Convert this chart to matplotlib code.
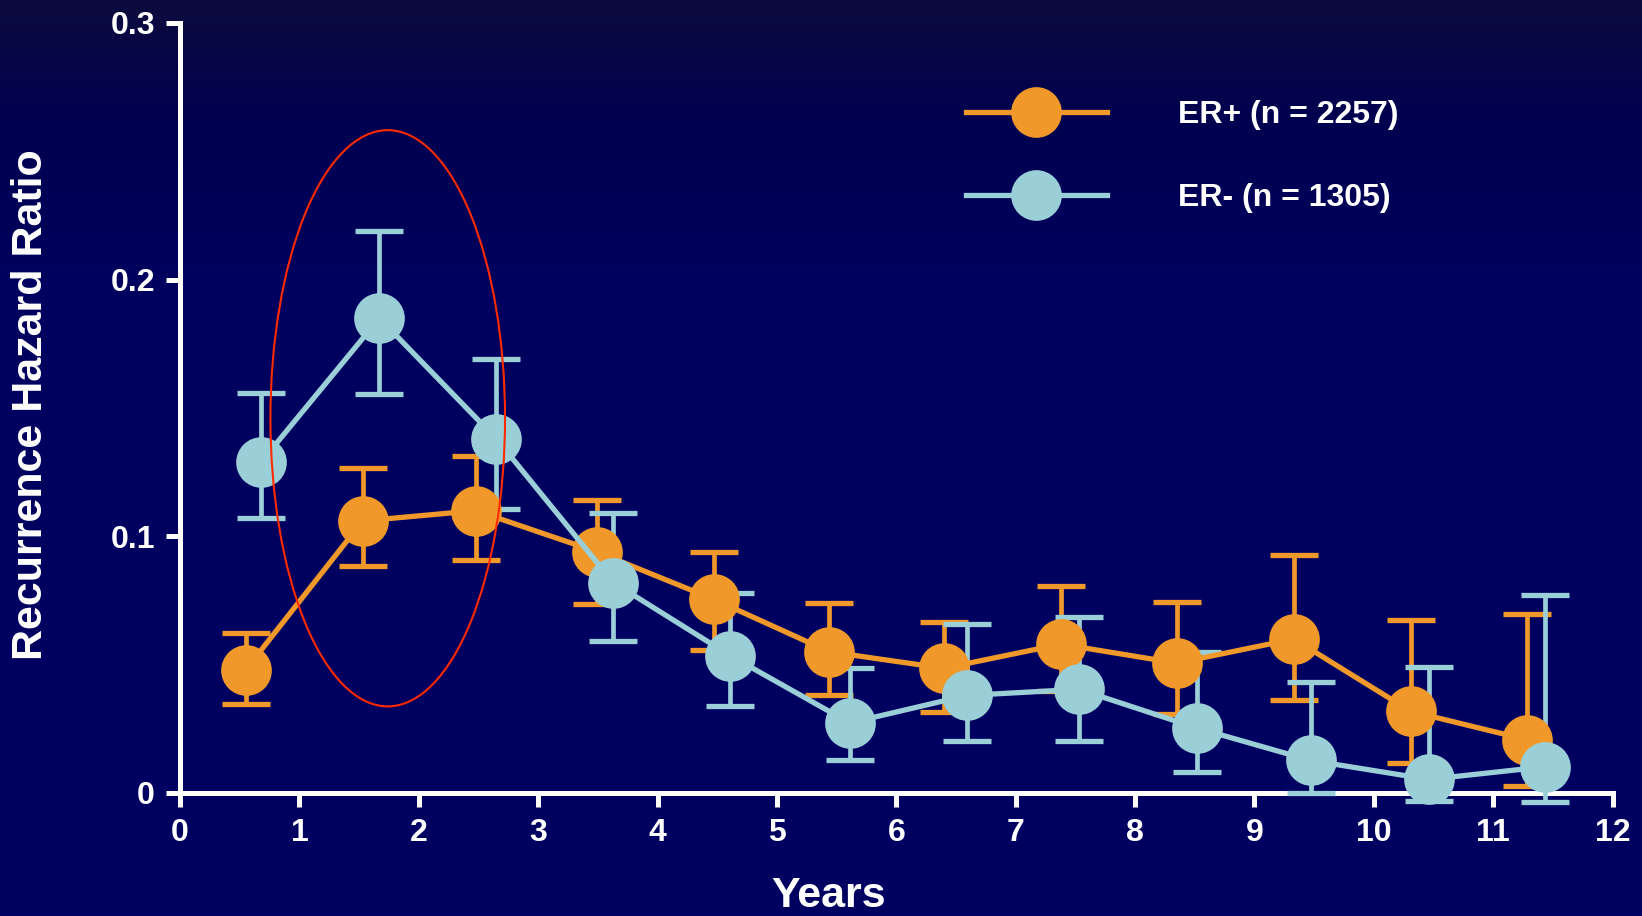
import numpy as np
import matplotlib
matplotlib.use("Agg")
import matplotlib.pyplot as plt
from matplotlib.patches import Ellipse
from matplotlib.colors import LinearSegmentedColormap

plt.rcParams['font.family'] = ['Liberation Sans', 'DejaVu Sans']
plt.rcParams['font.weight'] = 'bold'

# ---- data ----
er_pos_x = [0.55, 1.53, 2.48, 3.49, 4.47, 5.44, 6.40, 7.38, 8.35, 9.33, 10.31, 11.28]
er_pos_y = [0.048, 0.106, 0.110, 0.094, 0.0755, 0.055, 0.0486, 0.058, 0.0506, 0.060, 0.0318, 0.0208]
er_pos_hi = [0.0624, 0.1265, 0.1314, 0.1143, 0.0939, 0.0739, 0.0665, 0.0808, 0.0743, 0.0927, 0.0673, 0.0698]
er_pos_lo = [0.0347, 0.0886, 0.0906, 0.0735, 0.0559, 0.038, 0.0314, 0.0396, 0.0306, 0.0363, 0.0118, 0.0029]

er_neg_x = [0.68, 1.67, 2.65, 3.63, 4.61, 5.61, 6.59, 7.53, 8.52, 9.47, 10.46, 11.43]
er_neg_y = [0.129, 0.185, 0.138, 0.082, 0.0535, 0.0273, 0.038, 0.0404, 0.0253, 0.0127, 0.0053, 0.0102]
er_neg_hi = [0.156, 0.219, 0.169, 0.109, 0.078, 0.0486, 0.0657, 0.0686, 0.0551, 0.0433, 0.049, 0.0771]
er_neg_lo = [0.107, 0.1555, 0.1106, 0.0592, 0.0339, 0.0127, 0.0204, 0.0204, 0.0082, 0.0, -0.003, -0.0037]

labels = ["ER+ (n = 2257)", "ER- (n = 1305)"]
x_ticks = list(range(0, 13))
y_ticks = [0, 0.1, 0.2, 0.3]
y_tick_labels = ["0", "0.1", "0.2", "0.3"]
x_label = "Years"
y_label = "Recurrence Hazard Ratio"

ORANGE = "#F0982A"
BLUE = "#9ACFD8"

W, H = 1642, 916
fig = plt.figure(figsize=(W / 100, H / 100), dpi=100)

# background gradient
bg = fig.add_axes([0, 0, 1, 1], zorder=-10)
grad = np.linspace(0, 1, 256).reshape(-1, 1)
cmap = LinearSegmentedColormap.from_list("bg", [(0, "#0c0b3e"), (0.12, "#01014f"), (0.3, "#00005e"), (1, "#000062")])
bg.imshow(grad, aspect='auto', cmap=cmap, extent=[0, 1, 0, 1], origin='upper')
bg.axis('off')

ax = fig.add_axes([180 / W, 1 - 793 / H, 1432.6 / W, 770 / H])
ax.set_facecolor('none')
ax.set_xlim(0, 12)
ax.set_ylim(0, 0.3)

for xs, ys, hi, lo, col, lab in [
    (er_pos_x, er_pos_y, er_pos_hi, er_pos_lo, ORANGE, labels[0]),
    (er_neg_x, er_neg_y, er_neg_hi, er_neg_lo, BLUE, labels[1]),
]:
    ys_a = np.array(ys)
    yerr = [ys_a - np.array(lo), np.array(hi) - ys_a]
    eb = ax.errorbar(xs, ys, yerr=yerr, fmt='none', ecolor=col, elinewidth=3.4,
                     capsize=17, capthick=3.8, zorder=3)
    for c in eb.lines[1]:
        c.set_clip_on(False)
    for lc in eb.lines[2]:
        lc.set_clip_on(False)
    ax.plot(xs, ys, '-o', color=col, lw=3.8, markersize=36.5, markeredgewidth=0,
            label=lab, zorder=4, clip_on=False)

# red ellipse highlight
ax.add_patch(Ellipse((1.74, 0.146), 1.965, 0.2245, fill=False, edgecolor='#FF2A00',
                     lw=1.5, zorder=5))

for s in ['top', 'right']:
    ax.spines[s].set_visible(False)
for s in ['left', 'bottom']:
    ax.spines[s].set_color('white')
    ax.spines[s].set_linewidth(3.6)
    ax.spines[s].set_zorder(2)

ax.set_xticks(x_ticks)
ax.set_xticklabels([str(t) for t in x_ticks])
ax.set_yticks(y_ticks)
ax.set_yticklabels(y_tick_labels)
ax.tick_params(axis='both', colors='white', width=3.6, length=10, direction='out',
               labelsize=23, pad=8)
for t in ax.get_xticklabels() + ax.get_yticklabels():
    t.set_fontweight('bold')
    t.set_color('white')

ax.set_xlabel(x_label, fontsize=31, fontweight='bold', color='white')
ax.xaxis.set_label_coords(0.453, -0.108)
ax.set_ylabel(y_label, fontsize=31, fontweight='bold', color='white', va='center')
ax.yaxis.set_label_coords(-0.104, 0.505)

leg = ax.legend(loc='upper left', bbox_to_anchor=(966 / W, 1 - 100 / H),
                bbox_transform=fig.transFigure, frameon=False, fontsize=23,
                handlelength=4.4, handletextpad=2.25, labelspacing=1.65,
                borderpad=0, borderaxespad=0, markerscale=1.0)
for t in leg.get_texts():
    t.set_color('white')
    t.set_fontweight('bold')

fig.savefig('out.png', dpi=100, facecolor='#000060')
